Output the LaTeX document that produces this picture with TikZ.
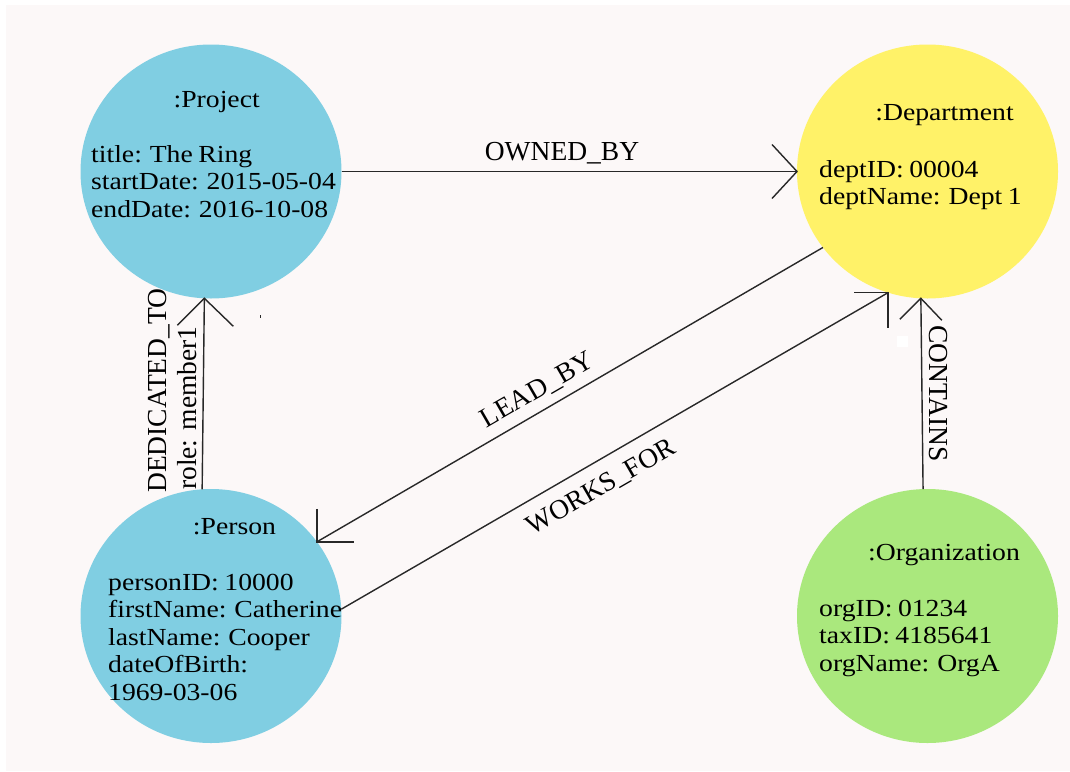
\documentclass[tikz,border=0pt]{standalone}
\usepackage{fontspec}
\setmainfont{Liberation Serif}
\newfontfamily\propfont{Liberation Serif}[FakeStretch=1.13, WordSpace=0.8]
\usetikzlibrary{shapes.geometric,calc}

\definecolor{canvasbg}{RGB}{252,248,248}
\definecolor{nodeblue}{RGB}{128,206,226}
\definecolor{nodeyellow}{RGB}{255,242,104}
\definecolor{nodegreen}{RGB}{170,232,125}
\definecolor{edgeink}{RGB}{40,40,40}

\begin{document}
\begin{tikzpicture}[x=1pt,y=-1pt,
  entity/.style={ellipse, minimum width=261pt, minimum height=254pt,
                 inner sep=0pt, outer sep=0pt, draw=none},
  edge/.style={draw=edgeink, line width=1.4pt},
  head/.style={draw=edgeink, line width=1.4pt, line join=miter},
  title/.style={inner sep=0pt, anchor=base,
                font=\propfont\fontsize{24.5}{27.5}\selectfont},
  props/.style={inner sep=0pt, anchor=north west, align=left,
                font=\propfont\fontsize{24.5}{27.5}\selectfont},
  rel/.style={inner sep=0pt, font=\fontsize{27.5}{30}\selectfont},
]
% canvas
\useasboundingbox (0,0) rectangle (1070,771);
\fill[white] (0,0) rectangle (1070,771);
\fill[canvasbg] (6,5) rectangle (1070,771);

% entities
\node[entity, fill=nodeblue]   (proj) at (211,171.5) {};
\node[entity, fill=nodeyellow] (dept) at (927.5,171.5) {};
\node[entity, fill=nodeblue]   (pers) at (211,616) {};
\node[entity, fill=nodegreen]  (org)  at (927.5,616) {};

% entity texts
\node[title] (projT) at (216.7,107) {:Project};
\node[props] (projP) at (91,142.75)
  {\strut title: The Ring\\startDate: 2015-05-04\\endDate: 2016-10-08};

\node[title] (deptT) at (944.5,120) {:Department};
\node[props] (deptP) at (819,157.75)
  {\strut deptID: 00004\\deptName: Dept 1};

\node[title] (persT) at (234.5,534) {:Person};
\node[props] (persP) at (108,570.75)
  {\strut personID: 10000\\firstName: Catherine\\lastName: Cooper\\dateOfBirth:\\1969-03-06};

\node[title] (orgT) at (944,560) {:Organization};
\node[props] (orgP) at (819,596.75)
  {\strut orgID: 01234\\taxID: 4185641\\orgName: OrgA};

% relationships
\draw[edge] (proj.east) -- (dept.west) coordinate (tipOwned);
\draw[edge] (dept.216.4) -- (pers.35.4) coordinate (tipLead);
\draw[edge] (pers.3.5) -- (dept.252.2) coordinate (tipWorks);
\draw[edge] (pers.94.2) -- (proj.267) coordinate (tipDed);
\draw[edge] (org.92.5) -- (dept.267.4) coordinate (tipCont);

% open arrow heads
\draw[head] ($(tipOwned)+(-25,-27)$) -- (tipOwned) -- ($(tipOwned)+(-25,27)$);
\draw[head] ($(tipLead)+(0,-33)$) -- (tipLead) -- ($(tipLead)+(37,0)$);
\draw[head] ($(tipWorks)+(-34,0)$) -- (tipWorks) -- ($(tipWorks)+(0,35)$);
\draw[head] ($(tipDed)+(-27,27)$) -- (tipDed) -- ($(tipDed)+(29,28)$);
\draw[head] ($(tipCont)+(-21,21)$) -- (tipCont) -- ($(tipCont)+(21,22)$);

% relationship labels
\node[rel, anchor=base] (lOwned) at (562,160) {OWNED\_BY};
\node[rel, anchor=base, rotate=30] (lLead) at (541,397) {LEAD\_BY};
\node[rel, anchor=base, rotate=30] (lWorks) at (605,494) {WORKS\_FOR};
\node[rel, anchor=base west, rotate=90] (lDed) at (166.7,493) {DEDICATED\_TO};
\node[rel, anchor=base west, rotate=90] (lRole) at (196.7,490) {role: member1};
\node[rel, anchor=base west, rotate=-90] (lCont) at (929,325) {CONTAINS};

% small specks
\fill[edgeink] (259.5,314.5) rectangle (261,317.5);
\fill[white] (897,336) rectangle (908,347);
\end{tikzpicture}
\end{document}
